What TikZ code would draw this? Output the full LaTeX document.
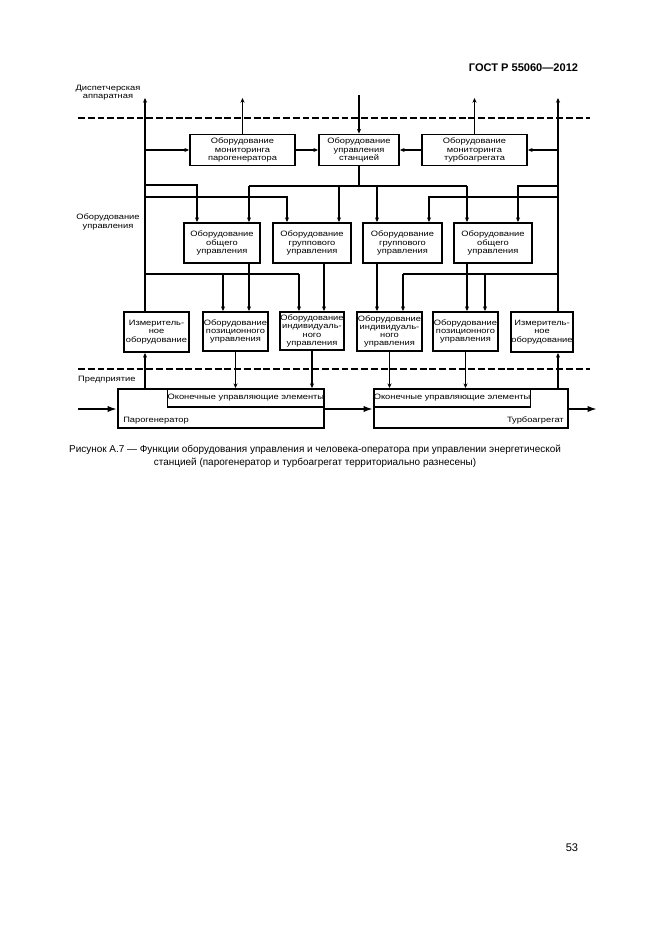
\documentclass[tikz,border=0pt]{standalone}
\usepackage{fontspec}
\setmainfont{Liberation Sans}
\newfontfamily\boxfont[FakeStretch=1.2]{Liberation Sans}
\usepackage{tikz}
\usetikzlibrary{arrows.meta, positioning, calc}
\newlength{\pxu}\setlength{\pxu}{0.3176mm}

\tikzset{
  sz/.style 2 args={minimum width=#1*\pxu, minimum height=#2*\pxu},
  blk/.style={draw, line width=1.7pt, align=center, inner sep=0pt,
    font=\boxfont\fontsize{7}{7.4}\selectfont},
  lbl/.style={align=center, inner sep=0pt, font=\boxfont\fontsize{7}{7.4}\selectfont},
  wire/.style={line width=1.4pt},
  sig/.style={line width=1.4pt, -{Stealth[length=1.5mm,width=1.3mm]}},
  flow/.style={line width=1.6pt, -{Latex[length=3mm,width=2mm]}},
  zone/.style={line width=1.5pt, dash pattern=on 2.2mm off 0.9mm}
}

\begin{document}
\begin{tikzpicture}[x=0.3176mm, y=-0.3176mm]
  \useasboundingbox (0,0) rectangle (661,935);

  % page text
  \node[anchor=east, font=\bfseries\fontsize{10}{12}\selectfont] (gost) at (582,68) {ГОСТ Р 55060—2012};
  \node[align=center, font=\fontsize{9}{11.6}\selectfont] (cap) at (315,456.5)
    {Рисунок А.7 — Функции оборудования управления и человека-оператора при управлении энергетической\\
     станцией (парогенератор и турбоагрегат территориально разнесены)};
  \node[anchor=east, font=\fontsize{10}{12}\selectfont] (pgnum) at (582,848) {53};

  % zones
  \coordinate (zA) at (78,118);  \coordinate (zB) at (590,118);
  \coordinate (zC) at (78,369);  \coordinate (zD) at (590,369);
  \draw[zone] (zA) -- (zB);
  \draw[zone] (zC) -- (zD);
  \node[lbl] (disp) at (108,93) {Диспетчерская\\аппаратная};
  \node[lbl] (equ) at (108,222) {Оборудование\\управления};
  \node[lbl, anchor=west] (ent) at (78,380) {Предприятие};

  % top row
  \node[blk, sz={105}{31}] (monpg) at (242.5,150) {Оборудование\\мониторинга\\парогенератора};
  \node[blk, sz={80}{31}] (stat) at (359,150) {Оборудование\\управления\\станцией};
  \node[blk, sz={105}{31}] (monta) at (474.5,150) {Оборудование\\мониторинга\\турбоагрегата};

  % middle row
  \node[blk, sz={76}{40}] (gen1) at (222,243) {Оборудование\\общего\\управления};
  \node[blk, sz={78}{40}] (grp1) at (312,243) {Оборудование\\группового\\управления};
  \node[blk, sz={79}{40}] (grp2) at (402.5,243) {Оборудование\\группового\\управления};
  \node[blk, sz={78}{40}] (gen2) at (493,243) {Оборудование\\общего\\управления};

  % bottom row
  \node[blk, sz={65}{40}] (meas1) at (156.5,332) {Измеритель-\\ное\\оборудование};
  \node[blk, sz={65}{39}] (pos1) at (235.5,331.5) {Оборудование\\позиционного\\управления};
  \node[blk, sz={64}{38}] (ind1) at (312,331) {Оборудование\\индивидуаль-\\ного\\управления};
  \node[blk, sz={65}{39}] (ind2) at (389.5,331.5) {Оборудование\\индивидуаль-\\ного\\управления};
  \node[blk, sz={65}{39}] (pos2) at (465.5,331.5) {Оборудование\\позиционного\\управления};
  \node[blk, sz={62}{40}] (meas2) at (542,332) {Измеритель-\\ное\\оборудование};

  % plant
  \node[draw, line width=1.7pt, sz={206}{39}] (pg) at (221,408.5) {};
  \node[blk, line width=1.4pt, sz={155}{18}, anchor=north east] (term1) at (pg.north east) {Оконечные управляющие элементы};
  \node[lbl, anchor=south west] (pgname) at ($(pg.south west)+(6,-5)$) {Парогенератор};
  \node[draw, line width=1.7pt, sz={194}{39}] (tur) at (471,408.5) {};
  \node[blk, line width=1.4pt, sz={156}{18}, anchor=north west] (term2) at (tur.north west) {Оконечные управляющие элементы};
  \node[lbl, anchor=south east] (turname) at ($(tur.south east)+(-5,-5)$) {Турбоагрегат};

  % verticals to the control room
  \coordinate (ltop) at (145,98);
  \coordinate (rtop) at (558,98);
  \coordinate (stop) at (359,95);
  \draw[sig] (meas1.north -| ltop) -- (ltop);
  \draw[sig] (meas2.north -| rtop) -- (rtop);
  \draw[sig] (monpg.north) -- (monpg.north |- ltop);
  \draw[sig] (monta.north) -- (monta.north |- rtop);
  \draw[sig] (stop) -- (stat.north);
  \draw[sig] (ltop |- monpg.west) -- (monpg.west);
  \draw[sig] (monpg) -- (stat);
  \draw[sig] (monta) -- (stat);
  \draw[sig] (rtop |- monta.east) -- (monta.east);

  % station bus
  \coordinate (sL) at (249,186);  \coordinate (sR) at (467,186);
  \coordinate (s2) at (339,186);  \coordinate (s3) at (377,186);
  \draw[wire] (stat.south) -- (stat.south |- sL);
  \draw[wire] (sL) -- (sR);
  \draw[sig] (sL) -- (sL |- gen1.north);
  \draw[sig] (s2) -- (s2 |- grp1.north);
  \draw[sig] (s3) -- (s3 |- grp2.north);
  \draw[sig] (sR) -- (sR |- gen2.north);

  % feeds from measuring lines
  \coordinate (a1) at (197,185);  \coordinate (a2) at (287,197);
  \coordinate (b1) at (518,186);  \coordinate (b2) at (429,197);
  \draw[sig] (ltop |- a1) -- (a1) -- (a1 |- gen1.north);
  \draw[sig] (ltop |- a2) -- (a2) -- (a2 |- grp1.north);
  \draw[sig] (rtop |- b1) -- (b1) -- (b1 |- gen2.north);
  \draw[sig] (rtop |- b2) -- (b2) -- (b2 |- grp2.north);

  % lower buses
  \coordinate (c1) at (223,274);  \coordinate (c2) at (299,274);
  \coordinate (f1) at (403,274);  \coordinate (f2) at (485,274);
  \coordinate (g1) at (324,274);
  \draw[wire] (ltop |- c1) -- (c2);
  \draw[sig] (c1) -- (c1 |- pos1.north);
  \draw[sig] (c2) -- (c2 |- ind1.north);
  \draw[wire] (rtop |- f1) -- (f1);
  \draw[sig] (f1) -- (f1 |- ind2.north);
  \draw[sig] (f2) -- (f2 |- pos2.north);
  \draw[sig] (sL |- gen1.south) -- (sL |- pos1.north);
  \draw[sig] (g1 |- grp1.south) -- (g1 |- ind1.north);
  \draw[sig] (s3 |- grp2.south) -- (s3 |- ind2.north);
  \draw[sig] (sR |- gen2.south) -- (sR |- pos2.north);

  % to and from the plant
  \draw[sig] (ltop |- pg.north) -- (ltop |- meas1.south);
  \draw[sig] (rtop |- tur.north) -- (rtop |- meas2.south);
  \draw[sig] (pos1.south) -- (pos1.south |- term1.north);
  \draw[sig] (ind1.south) -- (ind1.south |- term1.north);
  \draw[sig] (ind2.south) -- (ind2.south |- term2.north);
  \draw[sig] (pos2.south) -- (pos2.south |- term2.north);

  % process flow
  \coordinate (inp) at (78,409);  \coordinate (outp) at (597,409);
  \draw[flow] (inp) -- (inp -| pg.west);
  \draw[flow] (pg.east |- inp) -- (tur.west |- inp);
  \draw[flow] (tur.east |- inp) -- (outp);
\end{tikzpicture}
\end{document}
